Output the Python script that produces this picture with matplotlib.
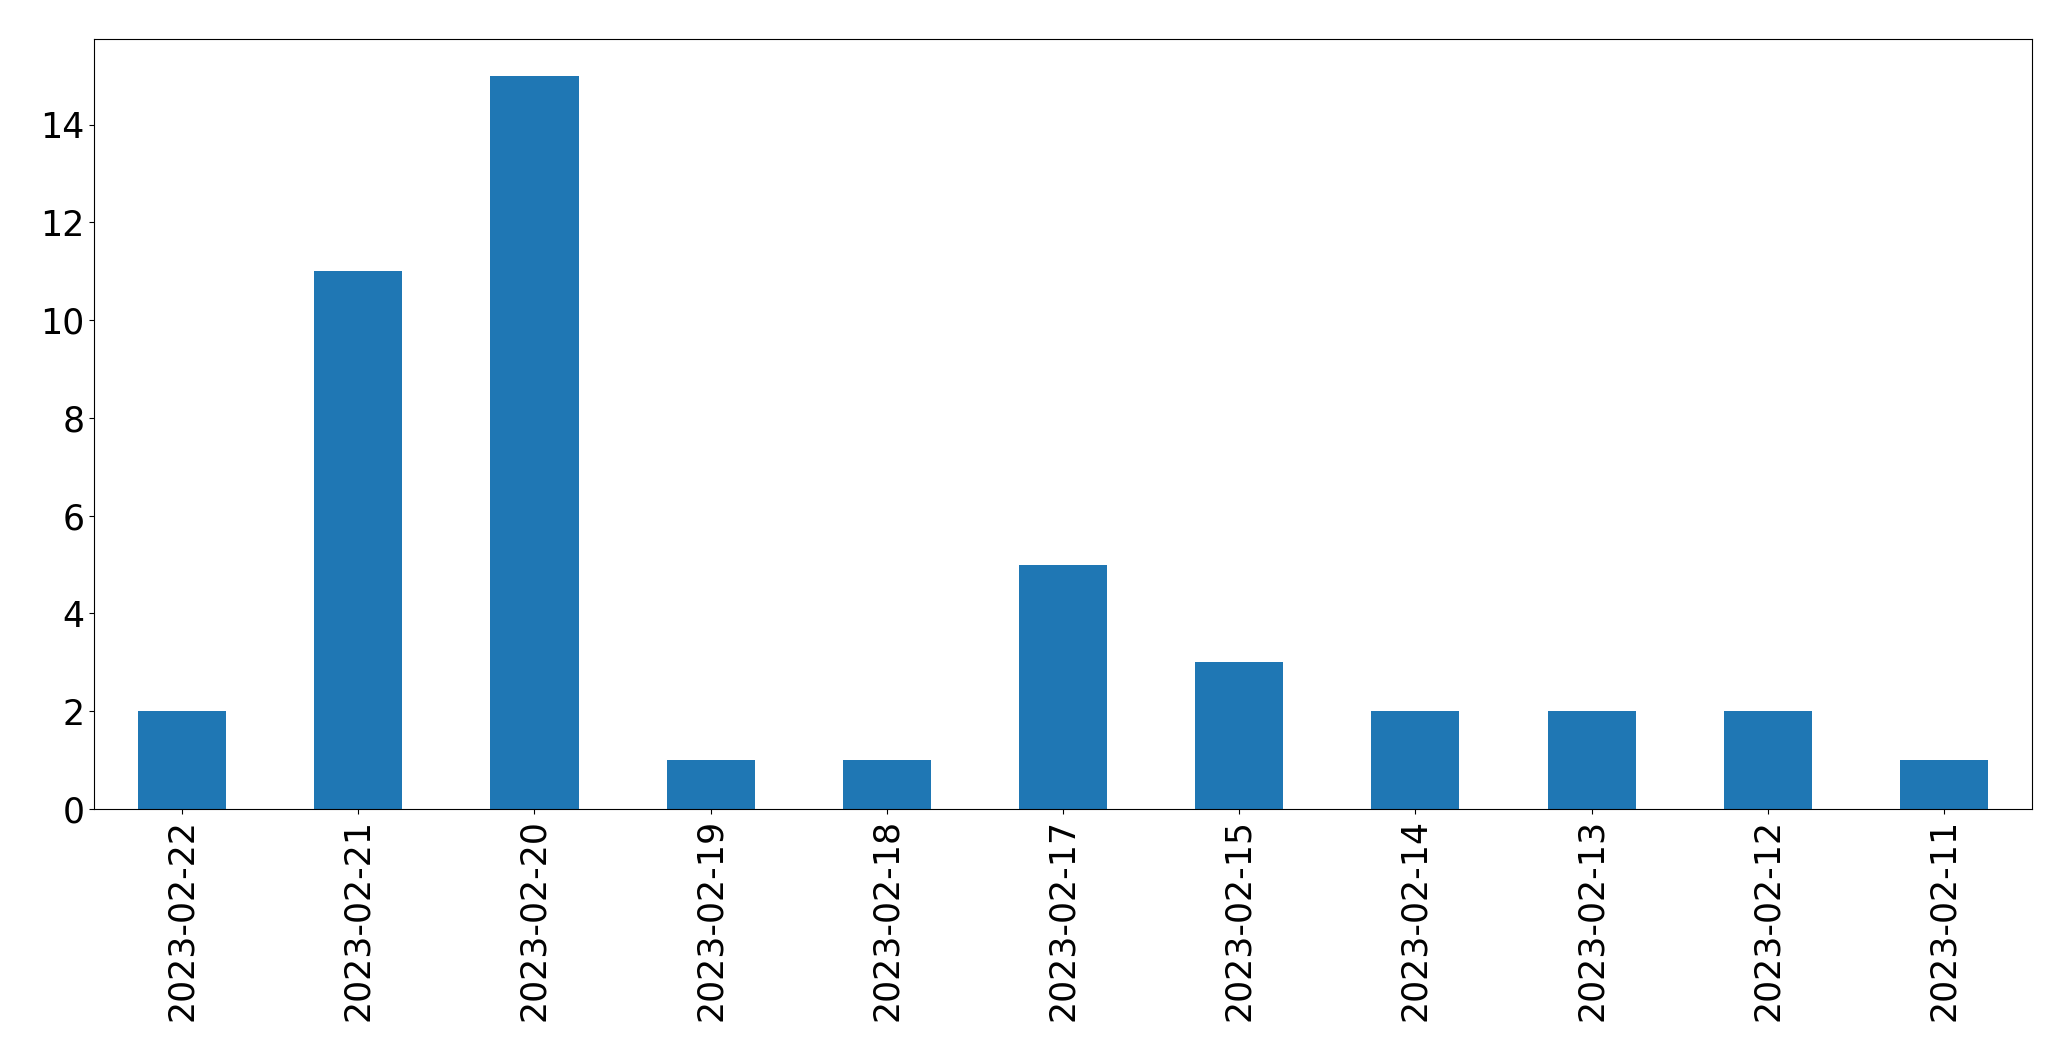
#!/usr/bin/env python3
"""Daily counts bar chart (pandas-style bar plot)."""

import matplotlib
matplotlib.use("Agg")
import matplotlib.pyplot as plt
import pandas as pd

dates = ["2023-02-22", "2023-02-21", "2023-02-20", "2023-02-19", "2023-02-18",
         "2023-02-17", "2023-02-15", "2023-02-14", "2023-02-13", "2023-02-12",
         "2023-02-11"]
counts = [2, 11, 15, 1, 1, 5, 3, 2, 2, 2, 1]

series = pd.Series(counts, index=dates)

fig, ax = plt.subplots(figsize=(20.71, 10.61), dpi=100)
fig.subplots_adjust(left=94 / 2071, right=2032 / 2071,
                    top=1 - 39 / 1061, bottom=1 - 809 / 1061)

series.plot(kind="bar", ax=ax, color="#1f77b4")
ax.tick_params(labelsize=25)

fig.savefig("out.png", dpi=100)
